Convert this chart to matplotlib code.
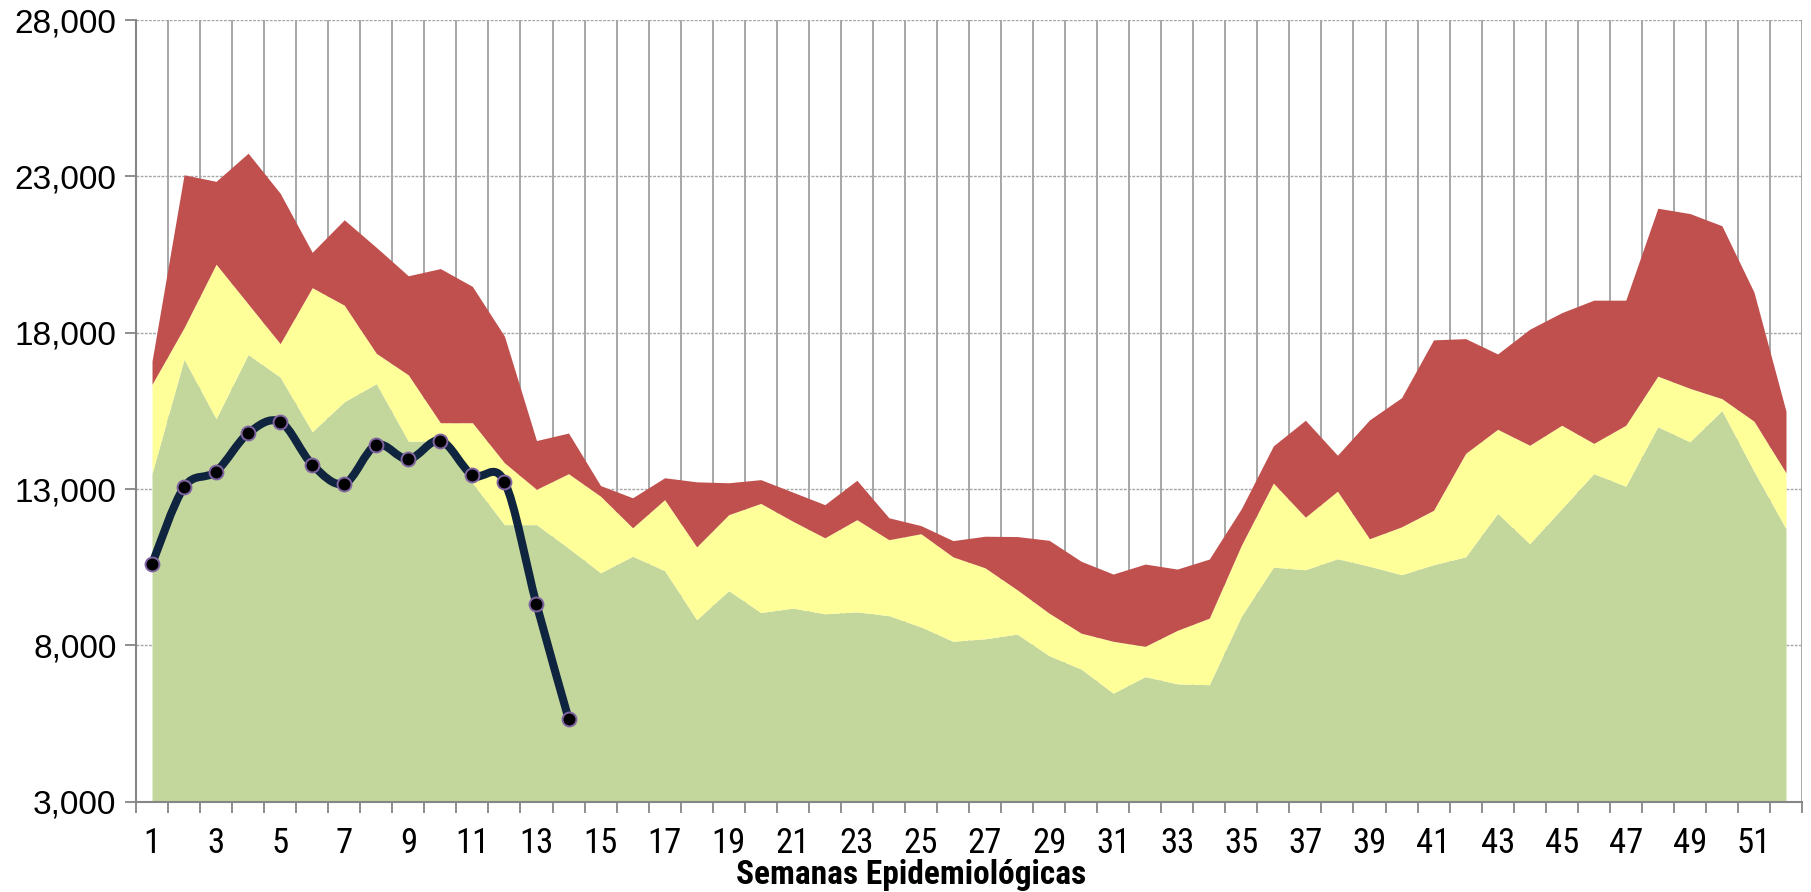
import matplotlib
matplotlib.use("Agg")
import matplotlib.pyplot as plt
from matplotlib import font_manager
from matplotlib.path import Path
from matplotlib.patches import PathPatch
from matplotlib.ticker import FixedLocator, FuncFormatter
import numpy as np

weeks = list(range(1, 53))

# canal endemico: limites superiores de cada zona
zona_exito = [13500, 17150, 15250, 17300, 16580, 14830, 15790, 16370, 14530, 14530,
              13200, 11860, 11860, 11110, 10320, 10850, 10390, 8820, 9750, 9050,
              9190, 9010, 9070, 8950, 8590, 8130, 8210, 8360, 7670, 7240,
              6470, 7000, 6770, 6740, 8930, 10500, 10420, 10770, 10530, 10260,
              10580, 10830, 12220, 11250, 12370, 13490, 13090, 14990, 14510, 15510,
              13570, 11730]
zona_seguridad = [16350, 18160, 20190, 18920, 17650, 19440, 18880, 17340, 16650, 15120,
                  15120, 13840, 12990, 13490, 12770, 11760, 12660, 11150, 12180, 12540,
                  11970, 11440, 12020, 11380, 11570, 10830, 10480, 9780, 9030, 8390,
                  8130, 7970, 8480, 8870, 11200, 13190, 12100, 12930, 11410, 11790,
                  12320, 14140, 14910, 14400, 15040, 14460, 15040, 16610, 16220, 15890,
                  15170, 13520]
zona_alarma = [17090, 23050, 22840, 23740, 22460, 20570, 21610, 20730, 19820, 20050,
               19480, 17890, 14550, 14790, 13110, 12720, 13360, 13230, 13200, 13300,
               12900, 12500, 13280, 12080, 11830, 11350, 11490, 11480, 11360, 10690,
               10280, 10600, 10440, 10760, 12370, 14380, 15200, 14080, 15210, 15920,
               17770, 17810, 17320, 18110, 18640, 19040, 19040, 21980, 21810, 21420,
               19300, 15490]

semanas_actual = list(range(1, 15))
casos_actual = [10600, 13060, 13560, 14780, 15150, 13780, 13170, 14410, 13950, 14550,
                13440, 13240, 9320, 5660]

y_ticks = [3000, 8000, 13000, 18000, 23000, 28000]
x_labels = list(range(1, 53, 2))


def pick_font(names, fallback):
    avail = {f.name for f in font_manager.fontManager.ttflist}
    for n in names:
        if n in avail:
            return n
    return fallback


narrow = pick_font(["Liberation Sans Narrow", "DejaVu Sans Condensed", "Roboto Condensed"], "Liberation Sans")

plt.rcParams["font.family"] = ["Liberation Sans", "DejaVu Sans"]

fig = plt.figure(figsize=(18.11, 8.92), dpi=100)
ax = fig.add_axes([136 / 1811, 1 - 801.7 / 892, (1802 - 136) / 1811, (801.7 - 20) / 892])

floor = y_ticks[0]
ax.fill_between(weeks, floor, zona_exito, color="#C3D69B", lw=0, zorder=2)
ax.fill_between(weeks, zona_exito, zona_seguridad, color="#FFFF99", lw=0, zorder=2)
ax.fill_between(weeks, zona_seguridad, zona_alarma, color="#C0504D", lw=0, zorder=2)

# curva suavizada tipo Excel (bezier)
xs = np.array(semanas_actual, dtype=float)
ys = np.array(casos_actual, dtype=float)
verts = [(xs[0], ys[0])]
codes = [Path.MOVETO]
n = len(xs)
for i in range(n - 1):
    p0 = np.array([xs[max(i - 1, 0)], ys[max(i - 1, 0)]])
    p1 = np.array([xs[i], ys[i]])
    p2 = np.array([xs[i + 1], ys[i + 1]])
    p3 = np.array([xs[min(i + 2, n - 1)], ys[min(i + 2, n - 1)]])
    c1 = p1 + (p2 - p0) / 6.0
    c2 = p2 - (p3 - p1) / 6.0
    verts += [tuple(c1), tuple(c2), tuple(p2)]
    codes += [Path.CURVE4] * 3
ax.add_patch(PathPatch(Path(verts, codes), facecolor="none", edgecolor="#0F243E",
                       lw=5.8, capstyle="round", joinstyle="round", zorder=4))
ax.plot(semanas_actual, casos_actual, ls="none", marker="o", ms=10,
        mfc="black", mec="#8064A2", mew=1.4, zorder=5)

ax.set_xlim(0.5, 52.5)
ax.set_ylim(y_ticks[0], y_ticks[-1])

ax.xaxis.set_major_locator(FixedLocator(np.arange(0.5, 53, 1)))
ax.xaxis.set_minor_locator(FixedLocator(x_labels))
ax.xaxis.set_major_formatter(FuncFormatter(lambda v, p: ""))
ax.xaxis.set_minor_formatter(FuncFormatter(lambda v, p: f"{int(round(v))}"))
ax.tick_params(axis="x", which="major", direction="out", length=8, width=1.3, color="#868686")
ax.tick_params(axis="x", which="minor", length=0, pad=18, labelsize=25)
for lab in ax.get_xticklabels(minor=True):
    lab.set_fontfamily(narrow)

ax.set_yticks(y_ticks)
ax.yaxis.set_major_formatter(FuncFormatter(lambda v, p: f"{int(v):,}"))
ax.tick_params(axis="y", direction="out", length=8, width=1.3, color="#868686",
               labelsize=24, pad=6)

ax.set_axisbelow(True)
ax.grid(axis="x", which="major", color="#A0A0A0", lw=1.3, ls="-", zorder=0)
ax.grid(axis="y", color="#A6A6A6", lw=1.0, ls=(0, (2, 1)), zorder=0)

for side in ["top", "right"]:
    ax.spines[side].set_visible(False)
for side in ["left", "bottom"]:
    ax.spines[side].set_color("#868686")
    ax.spines[side].set_linewidth(1.5)

fig.text(911 / 1811, (892 - 884) / 892, "Semanas Epidemiológicas", ha="center", va="baseline",
         fontsize=24, fontweight="bold", family=[narrow, "DejaVu Sans"])

fig.savefig("out.png", dpi=100)
